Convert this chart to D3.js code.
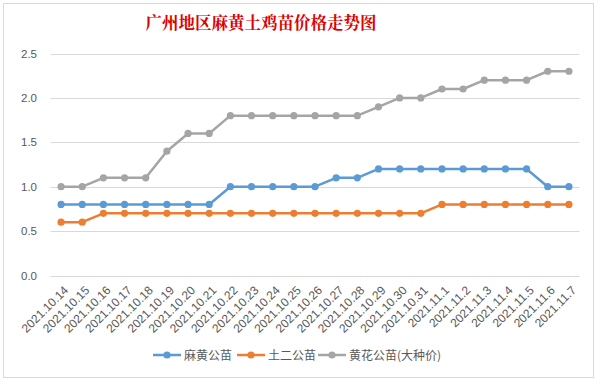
<!DOCTYPE html>
<html>
<head>
<meta charset="utf-8">
<script src="https://cdn.jsdelivr.net/npm/d3@7"></script>
<style>
  body { margin: 0; background: #fff; }
  svg { display: block; font-family: "Noto Sans CJK SC", "Noto Sans", sans-serif; }
</style>
</head>
<body>
<svg id="chart" width="597" height="381"></svg>
<script>
// dates on the x axis
var dates = ['2021.10.14', '2021.10.15', '2021.10.16', '2021.10.17', '2021.10.18', '2021.10.19',
    '2021.10.20', '2021.10.21', '2021.10.22', '2021.10.23', '2021.10.24', '2021.10.25',
    '2021.10.26', '2021.10.27', '2021.10.28', '2021.10.29', '2021.10.30', '2021.10.31',
    '2021.11.1', '2021.11.2', '2021.11.3', '2021.11.4', '2021.11.5', '2021.11.6', '2021.11.7'];

var mahuang = [0.8, 0.8, 0.8, 0.8, 0.8, 0.8, 0.8, 0.8, 1.0, 1.0, 1.0, 1.0, 1.0, 1.1, 1.1,
    1.2, 1.2, 1.2, 1.2, 1.2, 1.2, 1.2, 1.2, 1.0, 1.0];
var tuer = [0.6, 0.6, 0.7, 0.7, 0.7, 0.7, 0.7, 0.7, 0.7, 0.7, 0.7, 0.7, 0.7, 0.7, 0.7,
    0.7, 0.7, 0.7, 0.8, 0.8, 0.8, 0.8, 0.8, 0.8, 0.8];
var huanghua = [1.0, 1.0, 1.1, 1.1, 1.1, 1.4, 1.6, 1.6, 1.8, 1.8, 1.8, 1.8, 1.8, 1.8, 1.8,
    1.9, 2.0, 2.0, 2.1, 2.1, 2.2, 2.2, 2.2, 2.3, 2.3];

var seriesNames = ['麻黄公苗', '土二公苗', '黄花公苗(大种价)'];
var yTicks = [0, 0.5, 1.0, 1.5, 2.0, 2.5];

var series = [
    { name: seriesNames[0], values: mahuang, color: '#5b9bd5' },
    { name: seriesNames[1], values: tuer, color: '#ed7d31' },
    { name: seriesNames[2], values: huanghua, color: '#a5a5a5' }
];

var svg = d3.select('#chart');

//chart frame
svg.append('rect')
    .attr('x', 3.5).attr('y', 3.5)
    .attr('width', 590).attr('height', 374)
    .attr('fill', '#fff')
    .attr('stroke', '#d9d9d9');

svg.append('text')
    .attr('x', 261).attr('y', 29)
    .attr('text-anchor', 'middle')
    .attr('fill', '#e00000')
    .style('font-size', '16.5px')
    .style('font-weight', 'bold')
    .style('font-family', '"Noto Serif CJK SC", "Noto Sans CJK SC", serif')
    .text('广州地区麻黄土鸡苗价格走势图');

var x = d3.scaleBand().domain(dates).range([50.5, 579.5]).padding(0);
var y = d3.scaleLinear().domain([0, 2.5]).range([275.5, 53.5]);

//gridlines
svg.append('g')
    .selectAll('line')
    .data(yTicks)
    .join('line')
    .attr('x1', 50.5).attr('x2', 579.5)
    .attr('y1', function (d) { return Math.round(y(d)) + 0.5; })
    .attr('y2', function (d) { return Math.round(y(d)) + 0.5; })
    .attr('stroke', '#d9d9d9');

//y axis labels
var yAxis = svg.append('g')
    .attr('transform', 'translate(50,0)')
    .call(d3.axisLeft(y).tickValues(yTicks).tickFormat(d3.format('.1f')).tickSize(0).tickPadding(13));
yAxis.select('.domain').remove();
yAxis.selectAll('text').attr('fill', '#595959').style('font-size', '11.5px');

//x axis labels
var xAxis = svg.append('g')
    .attr('transform', 'translate(0,276)')
    .call(d3.axisBottom(x).tickSize(0).tickPadding(0));
xAxis.select('.domain').remove();
xAxis.selectAll('text')
    .attr('fill', '#595959')
    .style('font-size', '12px')
    .attr('text-anchor', 'end')
    .attr('dy', '0')
    .attr('transform', 'translate(8,15) rotate(-45)');

var line = d3.line()
    .x(function (d, i) { return x(dates[i]) + x.bandwidth() / 2; })
    .y(function (d) { return y(d); });

series.forEach(function (s) {
    var g = svg.append('g');
    g.append('path')
        .attr('d', line(s.values))
        .attr('fill', 'none')
        .attr('stroke', s.color)
        .attr('stroke-width', 2.5)
        .attr('stroke-linejoin', 'round');
    g.selectAll('circle')
        .data(s.values)
        .join('circle')
        .attr('cx', function (d, i) { return x(dates[i]) + x.bandwidth() / 2; })
        .attr('cy', function (d) { return y(d); })
        .attr('r', 3.6)
        .attr('fill', s.color);
});

//legend
var legendX = [153, 237, 318];
var legend = svg.append('g');
series.forEach(function (s, i) {
    var lg = legend.append('g').attr('transform', 'translate(' + legendX[i] + ',355)');
    lg.append('line')
        .attr('x1', 0).attr('x2', 28)
        .attr('stroke', s.color).attr('stroke-width', 2.5);
    lg.append('circle').attr('cx', 14).attr('r', 3.6).attr('fill', s.color);
    lg.append('text')
        .attr('x', 31).attr('y', 4.5)
        .attr('fill', '#595959')
        .style('font-size', '12px')
        .text(s.name);
});
</script>
</body>
</html>
